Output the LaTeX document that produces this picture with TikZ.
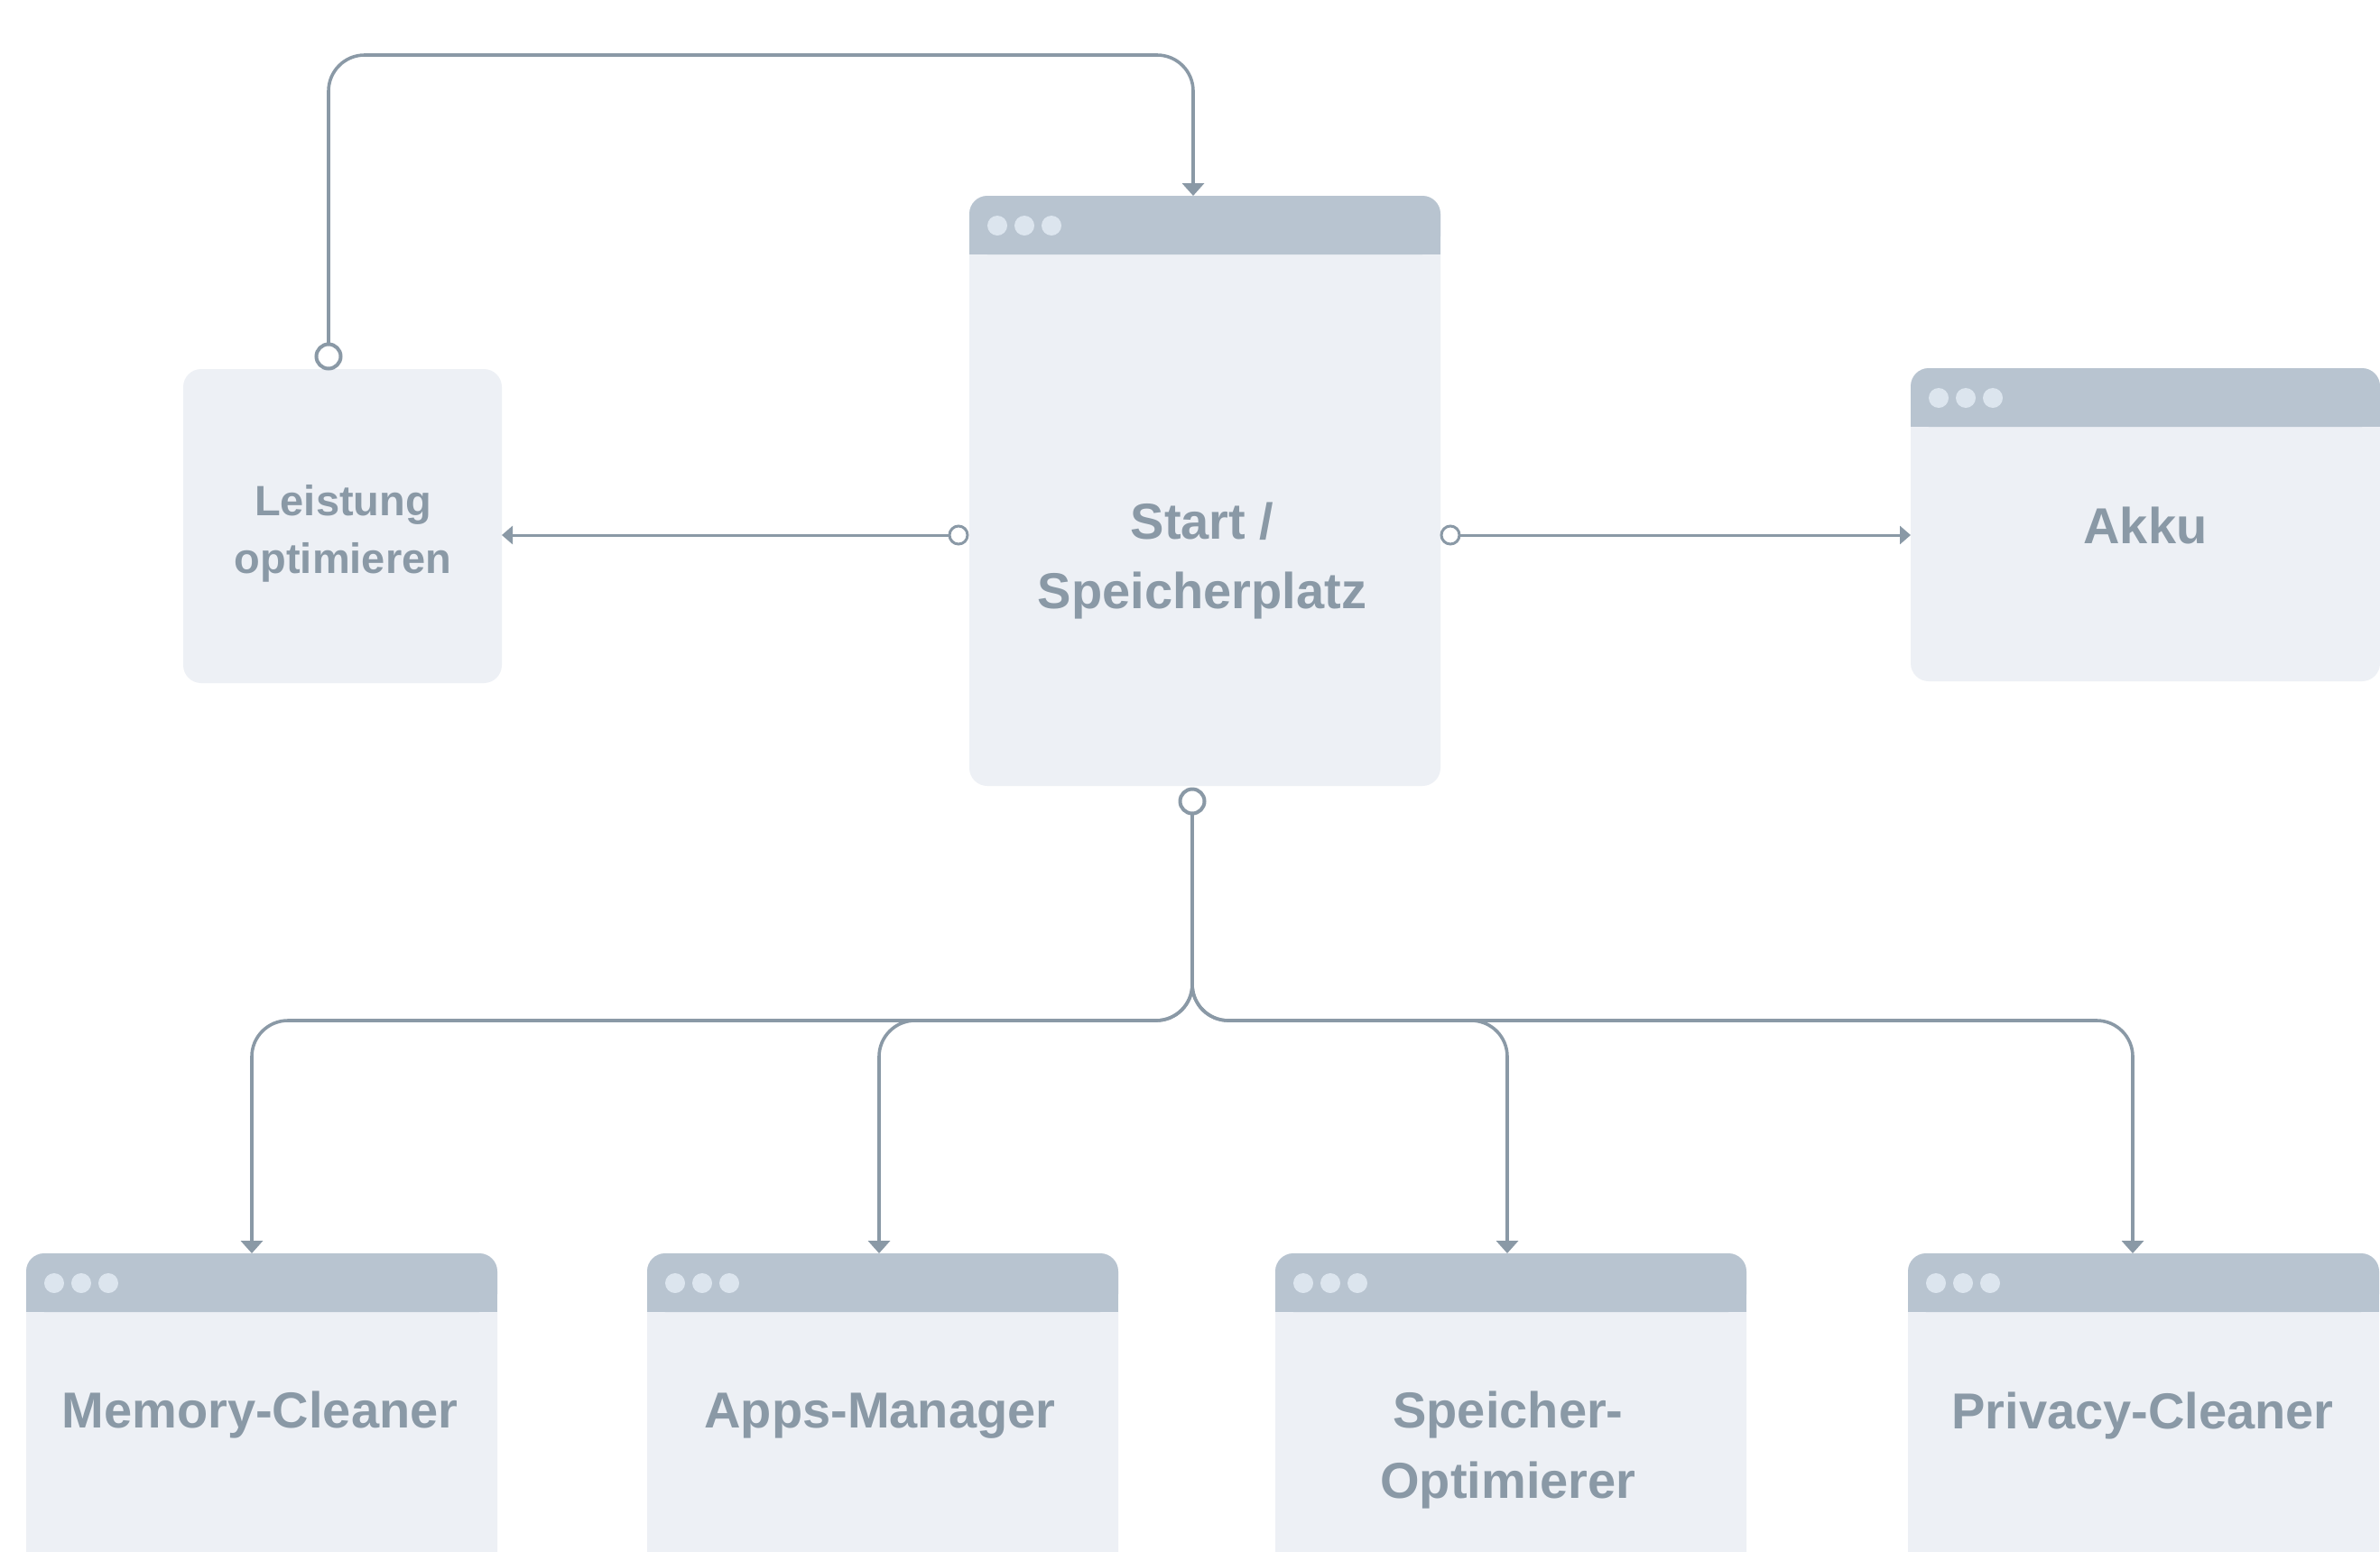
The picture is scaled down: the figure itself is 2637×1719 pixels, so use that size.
\documentclass[tikz,border=0pt]{standalone}
\usepackage{fontspec}
\setmainfont{Liberation Sans}
\usetikzlibrary{arrows.meta}

\definecolor{hdr}{HTML}{B8C4D0}
\definecolor{bodyc}{HTML}{EDF0F5}
\definecolor{dotc}{HTML}{DCE5EE}
\definecolor{wire}{HTML}{8A99A6}
\definecolor{ink}{HTML}{8A99A6}

% window header bar with three dots on top of a panel node
\newcommand\winhead[1]{%
  \fill[hdr, rounded corners=20pt] (#1.north west) rectangle ([yshift=-65pt]#1.north east);
  \fill[hdr] ([yshift=-30pt]#1.north west) rectangle ([yshift=-65pt]#1.north east);
  \foreach \dx in {31,61,91}
    \fill[dotc] ([xshift=\dx pt, yshift=-33pt]#1.north west) circle[radius=11pt];
}

\tikzset{
  panel/.style={rectangle, fill=bodyc, rounded corners=20pt, inner sep=0pt, outer sep=0pt},
  bigtxt/.style={text=ink, font=\fontsize{56}{56}\selectfont\bfseries, anchor=base, inner sep=0pt},
  smalltxt/.style={text=ink, font=\fontsize{47}{47}\selectfont\bfseries, anchor=base, inner sep=0pt},
  port/.style={circle, draw=wire, fill=white, line width=4pt, minimum size=27pt, inner sep=0pt},
  sideport/.style={circle, draw=wire, fill=white, line width=3pt, minimum size=20pt, inner sep=0pt},
  link/.style={draw=wire, line width=3.6pt, rounded corners=40pt, -{Triangle[width=24pt,length=14pt]}},
  sidelink/.style={draw=wire, line width=3pt, -{Triangle[width=20pt,length=12pt]}}
}

\begin{document}
\begin{tikzpicture}[x=1pt, y=-1pt]
  \clip (0,0) rectangle (2637,1719);
  \fill[white] (0,0) rectangle (2637,1719);

  % panels
  \node[panel, minimum width=522pt, minimum height=654pt] (start) at (1335,544) {};
  \winhead{start}
  \node[panel, minimum width=353pt, minimum height=348pt] (leist) at (379.5,583) {};
  \node[panel, minimum width=520pt, minimum height=347pt] (akku) at (2377,581.5) {};
  \winhead{akku}
  \node[panel, minimum width=522pt, minimum height=411pt] (mem)  at (290,1594.5) {};
  \winhead{mem}
  \node[panel, minimum width=522pt, minimum height=411pt] (apps) at (978,1594.5) {};
  \winhead{apps}
  \node[panel, minimum width=522pt, minimum height=411pt] (opt)  at (1674,1594.5) {};
  \winhead{opt}
  \node[panel, minimum width=522pt, minimum height=411pt] (priv) at (2375,1594.5) {};
  \winhead{priv}

  % labels
  \node[bigtxt] (startA) at (1332,597) {Start /};
  \node[bigtxt] (startB) at (1332,674) {Speicherplatz};
  \node[smalltxt] (leistA) at (380,571) {Leistung};
  \node[smalltxt] (leistB) at (380,635) {optimieren};
  \node[bigtxt] (akkuA) at (2377,602) {Akku};
  \node[bigtxt] (memA) at (288,1582) {Memory-Cleaner};
  \node[bigtxt] (appsA) at (975,1582) {Apps-Manager};
  \node[bigtxt] (optA) at (1671,1582) {Speicher-};
  \node[bigtxt] (optB) at (1671,1660) {Optimierer};
  \node[bigtxt] (privA) at (2374,1583) {Privacy-Cleaner};

  % port centres and bend points
  \coordinate (ctop) at (364,395);
  \coordinate (cbot) at (1321,888);
  \coordinate (cleft) at (1062,593);
  \coordinate (cright) at (1607,593);
  \coordinate (loopL) at (364,61);
  \coordinate (loopR) at (1322,61);
  \coordinate (fork) at (1321,1131);

  % connectors
  \draw[link] (ctop) -- (loopL) -- (loopR) -- (loopR |- start.north);
  \draw[sidelink] (cleft) -- (leist.east |- cleft);
  \draw[sidelink] (cright) -- (akku.west |- cright);
  \foreach \bx/\tgt in {279/mem, 974/apps, 1670/opt, 2363/priv}
    \draw[link] (cbot) -- (fork) -- (\bx,1131) -- (\bx,1131 |- \tgt.north);

  % ports drawn over the line ends
  \node[port] (ptop) at (ctop) {};
  \node[port] (pbot) at (cbot) {};
  \node[sideport] (pleft) at (cleft) {};
  \node[sideport] (pright) at (cright) {};
\end{tikzpicture}
\end{document}
